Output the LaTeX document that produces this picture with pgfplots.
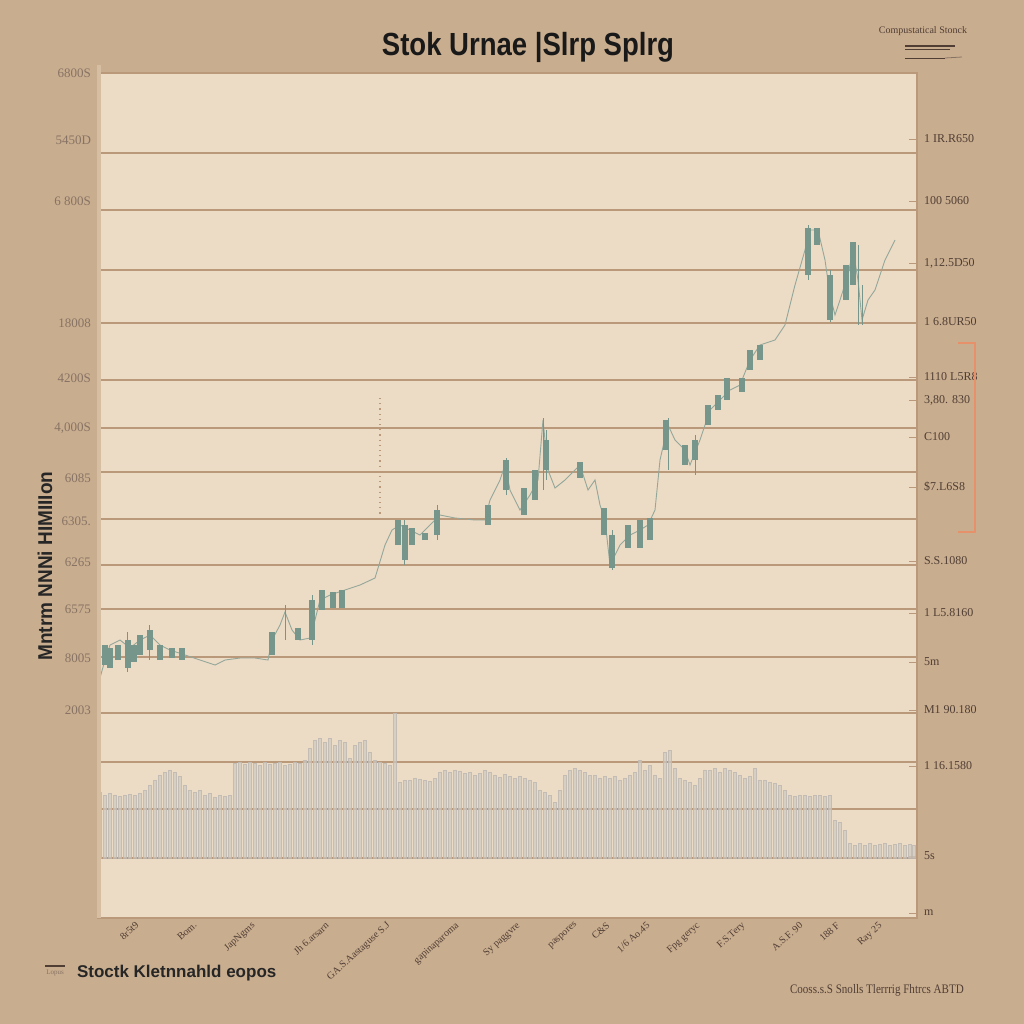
\documentclass[border=0pt]{standalone}
\usepackage{fontspec}
\setmainfont{Liberation Serif}
\newfontfamily\sansf{Liberation Sans}
\usepackage{pgfplots}
\pgfplotsset{compat=1.18}
\definecolor{bg}{RGB}{201,173,143}
\definecolor{plotbg}{RGB}{236,219,197}
\definecolor{gridc}{RGB}{186,152,122}
\definecolor{candle}{RGB}{118,150,140}
\definecolor{vol}{RGB}{208,202,195}
\definecolor{volline}{RGB}{190,184,178}
\definecolor{lbl}{RGB}{135,115,100}
\definecolor{lbldark}{RGB}{80,62,52}
\definecolor{orangec}{RGB}{230,145,105}
\definecolor{spine}{RGB}{214,190,162}
\begin{document}
\begin{tikzpicture}
\fill[bg] (0pt,0pt) rectangle (512pt,-512pt);
\useasboundingbox (0pt,0pt) rectangle (512pt,-512pt);
% main axis
\begin{axis}[at={(49pt,-459pt)}, anchor=south west, scale only axis,
  width=409.5pt, height=422.5pt,
  xmin=98, xmax=917, ymin=73, ymax=918, y dir=reverse,
  axis background/.style={fill=plotbg},
  axis line style={gridc, line width=0.6pt},
  tick style={draw=none},
  xtick={135,193,251,325,386,455,516,574,606,646,696,741,799,836,878},
  xticklabels={8r5t9,Bom.,JapNgms,Jh 6.arsarn,GA.S.Aastaguse S.J,gapinaparoma,Sy paggvre,paspores,C\&S,1/6 Ao.45,Fpg geryc,F.S.Tery,A.S.F. 90,188 F,Ray 25},
  x tick label style={rotate=42, anchor=north east, inner sep=1pt, font=\fontsize{5}{6}\selectfont, text=lbldark},
  ytick={73,140,201,323,378,428,478,521,562,609,658,710},
  yticklabels={6800S,5450D,6 800S,18008,4200S,{4,000S},6085,6305.,6265,6575,8005,2003},
  y tick label style={font=\fontsize{6.5}{7.5}\selectfont, text=lbl},
  extra y ticks={153,210,270,323,380,428,472,519,565,609,657,713,762,809,858},
  extra y tick labels={},
  extra y tick style={grid=major, major grid style={gridc, line width=0.75pt}},
  unbounded coords=jump, clip=true]
% price line
\addplot[candle!75!plotbg, line width=0.45pt] coordinates {
(98,685) (105,660) (110,645) (120,640) (130,648) (140,640) (150,635) (160,645) (170,650) (185,655) (200,660) (215,665) (225,660) (240,658) (255,658) (268,660) (272,640) (280,625) (285,612) (292,630) (300,640) (310,638) (315,620) (320,600) (330,595) (345,590) (360,585) (375,578) (385,545) (392,530) (400,525) (410,530) (420,535) (435,520) (440,515) (455,518) (475,520) (485,520) (490,500) (500,480) (505,465) (510,490) (520,510) (530,495) (538,480) (543,420) (548,470) (555,488) (565,480) (575,470) (580,465) (588,490) (595,480) (600,505) (605,520) (610,565) (620,545) (630,535) (640,530) (648,525) (655,510) (660,460) (668,425) (675,440) (685,450) (690,465) (700,440) (710,410) (720,400) (730,390) (740,385) (750,360) (760,345) (775,340) (785,325) (795,285) (805,250) (810,230) (818,230) (825,260) (830,295) (835,315) (840,300) (848,275) (853,250) (858,280) (862,320) (868,300) (875,290) (885,260) (895,240)};
% wicks
\addplot[candle, line width=0.5pt] coordinates {
(128,632) (128,672) (128,nan) (150,625) (150,660) (150,nan) (285,605) (285,640) (285,nan)
(312,595) (312,645) (312,nan) (404,520) (404,565) (404,nan) (437,505) (437,540) (437,nan)
(506,458) (506,495) (506,nan) (543,418) (543,490) (543,nan) (546,430) (546,480) (546,nan)
(612,530) (612,570) (612,nan) (668,418) (668,470) (668,nan) (695,435) (695,475) (695,nan)
(808,225) (808,280) (808,nan) (830,270) (830,322) (830,nan) (858,245) (858,325) (858,nan)
(862,285) (862,325)};
% bodies
\addplot[candle, line width=2.8pt] coordinates {
(105,645) (105,665) (105,nan) (110,648) (110,668) (110,nan) (118,645) (118,660) (118,nan)
(128,640) (128,668) (128,nan) (134,645) (134,662) (134,nan) (140,635) (140,655) (140,nan)
(150,630) (150,650) (150,nan) (160,645) (160,660) (160,nan) (172,648) (172,658) (172,nan)
(182,648) (182,660) (182,nan) (272,632) (272,655) (272,nan) (298,628) (298,640) (298,nan)
(312,600) (312,640) (312,nan) (322,590) (322,610) (322,nan) (333,592) (333,608) (333,nan)
(342,590) (342,608) (342,nan) (398,520) (398,545) (398,nan) (405,525) (405,560) (405,nan)
(412,528) (412,545) (412,nan) (425,533) (425,540) (425,nan) (437,510) (437,535) (437,nan)
(488,505) (488,525) (488,nan) (506,460) (506,490) (506,nan) (524,488) (524,515) (524,nan)
(535,470) (535,500) (535,nan) (546,440) (546,470) (546,nan) (580,462) (580,478) (580,nan)
(604,508) (604,535) (604,nan) (612,535) (612,568) (612,nan) (628,525) (628,548) (628,nan)
(640,520) (640,548) (640,nan) (650,518) (650,540) (650,nan) (666,420) (666,450) (666,nan)
(685,445) (685,465) (685,nan) (695,440) (695,460) (695,nan) (708,405) (708,425) (708,nan)
(718,395) (718,410) (718,nan) (727,378) (727,400) (727,nan) (742,378) (742,392) (742,nan)
(750,350) (750,370) (750,nan) (760,345) (760,360) (760,nan) (808,228) (808,275) (808,nan)
(817,228) (817,245) (817,nan) (830,275) (830,320) (830,nan) (846,265) (846,300) (846,nan)
(853,242) (853,285)};
% dotted guides
\addplot[gridc, dotted, line width=0.6pt] coordinates {(380,398) (380,520) (380,nan) (583,472) (660,472) (660,nan) (440,519) (485,519)};
\end{axis}
% right axis labels
\begin{axis}[at={(49pt,-459pt)}, anchor=south west, scale only axis,
  width=409.5pt, height=422.5pt,
  xmin=98, xmax=917, ymin=73, ymax=918, y dir=reverse,
  hide x axis, axis y line*=right, axis line style={draw=none},
  ytick={139,201,263,322,377,400,437,487,561,613,662,710,766,856,913},
  yticklabels={1 IR.R650,100 5060,{1,12.5D50},1 6.8UR50,1110 L5R8,{3,80. 830},C100,\$7.L6S8,S.S.1080,1 L5.8160,5m,M1 90.180,1 16.1580,5s,m},
  y tick label style={font=\fontsize{6}{7}\selectfont, text=lbldark},
  major tick length=4pt, tick style={gridc, line width=0.4pt}]
\addplot[draw=none] coordinates {(100,100)};
\end{axis}
% volume axis
\begin{axis}[at={(49pt,-459pt)}, anchor=south west, scale only axis,
  width=409.5pt, height=422.5pt,
  xmin=98, xmax=917, ymin=-60, ymax=786, hide axis,
  ybar, bar width=1.7pt, bar shift=0pt]
\addplot[fill=vol, draw=volline, line width=0.25pt, fill opacity=0.7, draw opacity=0.8] table[x=x, y expr=858-\thisrow{t}] {
x t
100 792
105 795
110 793
115 795
120 796
125 795
130 794
135 795
140 793
145 790
150 785
155 780
160 775
165 772
170 770
175 772
180 776
185 785
190 790
195 792
200 790
205 795
210 793
215 797
220 795
225 796
230 795
235 763
240 762
245 764
250 762
255 763
260 765
265 762
270 764
275 763
280 762
285 765
290 764
295 762
300 763
305 760
310 748
315 740
320 738
325 742
330 738
335 745
340 740
345 742
350 758
355 745
360 742
365 740
370 752
375 760
380 762
385 763
390 765
395 713
400 782
405 780
410 780
415 778
420 779
425 780
430 781
435 778
440 772
445 770
450 772
455 770
460 771
465 773
470 772
475 775
480 773
485 770
490 772
495 775
500 777
505 774
510 776
515 778
520 776
525 778
530 780
535 782
540 790
545 792
550 795
555 802
560 790
565 775
570 770
575 768
580 770
585 772
590 775
595 775
600 778
605 776
610 778
615 776
620 780
625 778
630 775
635 772
640 760
645 770
650 765
655 775
660 778
665 752
670 750
675 768
680 778
685 780
690 782
695 785
700 778
705 770
710 770
715 768
720 772
725 768
730 770
735 772
740 775
745 778
750 776
755 768
760 780
765 780
770 782
775 783
780 785
785 790
790 795
795 796
800 795
805 795
810 796
815 795
820 795
825 796
830 795
835 820
840 822
845 830
850 843
855 845
860 843
865 845
870 843
875 845
880 844
885 843
890 845
895 844
900 843
905 845
910 844
914 845
};
\end{axis}
\begin{scope}[x=0.5pt,y=-0.5pt]
% left spine
\draw[spine, line width=1.6pt] (99,65) -- (99,918);
% title
\node[font=\sansf\bfseries\fontsize{16}{18}\selectfont, text=black!90] at (528,47) {\scalebox{0.86}[1]{Stok Urnae |Slrp Splrg}};
% top-right legend
\node[font=\fontsize{5}{6}\selectfont, text=lbldark] at (923,31) {Compustatical Stonck};
\draw[lbldark, line width=0.7pt] (905,46) -- (955,46);
\draw[lbldark, line width=0.4pt] (905,49) -- (950,49);
\draw[lbldark, line width=0.5pt] (905,58) -- (945,58);
\draw[lbl, line width=0.4pt] (945,58) -- (962,57);
% orange bracket
\draw[orangec, line width=0.8pt] (958,343) -- (975,343) -- (975,532) -- (958,532);
% left rotated label
\node[rotate=90, font=\sansf\bfseries\fontsize{10}{12}\selectfont, text=black!85] at (45,566) {\scalebox{0.95}[1]{Mntrm NNNi HIMIIIon}};
% bottom-left legend
\draw[lbldark, line width=0.6pt] (45,966) -- (65,966);
\node[font=\fontsize{3.5}{4}\selectfont, text=lbl] at (55,973) {Lopus};
\node[anchor=west, font=\sansf\bfseries\fontsize{8.5}{10}\selectfont, text=black!85] at (70,973) {Stoctk Kletnnahld eopos};
% bottom-right text
\node[anchor=west, font=\fontsize{6.5}{8}\selectfont, text=lbldark] at (783,990) {\scalebox{0.85}[1]{Cooss.s.S Snolls Tlerrrig Fhtrcs ABTD}};
\end{scope}
\end{tikzpicture}
\end{document}
